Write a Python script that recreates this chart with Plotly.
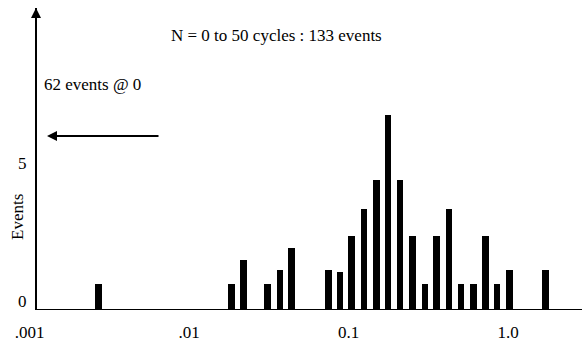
import numpy as np
import plotly.graph_objects as go

# Data
cycles_ratio = [0.002711, 0.01844, 0.02200, 0.03101, 0.03714, 0.04385, 0.07457, 0.08806,
                0.1044, 0.1246, 0.1500, 0.1771, 0.2101, 0.2523, 0.3013, 0.3568,
                0.4249, 0.5066, 0.6049, 0.7237, 0.8544, 1.0233, 1.7214]
events = [0.96, 0.96, 1.82, 0.96, 1.46, 2.24, 1.46, 1.40,
          2.69, 3.68, 4.73, 7.10, 4.73, 2.69, 0.96, 2.69,
          3.68, 0.96, 0.96, 2.69, 0.96, 1.46, 1.46]
x_tick_vals = [0.001, 0.01, 0.1, 1.0]
x_tick_text = [".001", ".01", "0.1", "1.0"]
y_tick_vals = [0, 5]
title_text = "N = 0 to 50 cycles : 133 events"
zero_note = "62 events @ 0"

W, H = 582, 343
ML, MR, MT, MB = 0, 0, 8, 33
PW, PH = W - ML - MR, H - MT - MB
FONT = "Liberation Serif"
X0PX, DEC = 29.6, 159.5   # pixel of 0.001 and pixels per decade

def px_x(p):
    return (p - ML) / PW

def px_y(p):
    return (H - MB - p) / PH

fig = go.Figure()
fig.add_trace(go.Bar(
    x=np.log10(cycles_ratio), y=events,
    width=0.041, marker=dict(color="black", line=dict(width=0)),
    showlegend=False, hoverinfo="skip",
))

axis_px = 36
fig.update_layout(
    template="none",
    width=W, height=H,
    margin=dict(l=ML, r=MR, t=MT, b=MB, pad=0),
    paper_bgcolor="white", plot_bgcolor="white",
    font=dict(family=FONT, size=17, color="black"),
    bargap=0,
    xaxis=dict(
        range=[-3 - X0PX / DEC, -3 + (W - X0PX) / DEC],
        tickvals=list(np.log10(x_tick_vals)), ticktext=x_tick_text,
        showgrid=False, zeroline=False, showline=False, ticks="",
        automargin=False, ticklabelstandoff=10,
        tickfont=dict(family=FONT, size=17, color="black"),
    ),
    yaxis=dict(
        range=[0, PH / 27.5],
        anchor="free", position=px_x(axis_px),
        tickvals=y_tick_vals,
        showgrid=False, zeroline=False, showline=True,
        linecolor="black", linewidth=2, ticks="",
        automargin=False,
        ticklabelstandoff=5, ticklabelshift=-9,
        tickfont=dict(family=FONT, size=17, color="black"),
    ),
)

# x axis baseline starting at the y axis
fig.add_shape(type="line", xref="paper", yref="y",
              x0=px_x(axis_px), x1=1, y0=0, y1=0,
              line=dict(color="black", width=2))

# arrowhead at top of y axis
fig.add_annotation(xref="paper", yref="paper", x=px_x(axis_px), y=px_y(8),
                   ax=0, ay=16, text="", showarrow=True,
                   arrowhead=2, arrowsize=1, arrowwidth=2, arrowcolor="black")

# left-pointing arrow for events at zero
fig.add_annotation(xref="paper", yref="paper", x=px_x(47), y=px_y(136),
                   ax=113, ay=0, text="", showarrow=True,
                   arrowhead=2, arrowsize=1, arrowwidth=2, arrowcolor="black")

txt = dict(showarrow=False, xanchor="center", yanchor="middle",
           font=dict(family=FONT, size=17, color="black"))
fig.add_annotation(xref="paper", yref="paper", x=px_x(276), y=px_y(35),
                   text=title_text, **txt)
fig.add_annotation(xref="paper", yref="paper", x=px_x(93), y=px_y(85),
                   text=zero_note, **txt)
fig.add_annotation(xref="paper", yref="paper", x=px_x(17), y=px_y(217),
                   text="Events", textangle=-90, **txt)

fig.write_html("out.html",
               config={"displayModeBar": False},
               post_script="document.body.style.margin='0px';")
